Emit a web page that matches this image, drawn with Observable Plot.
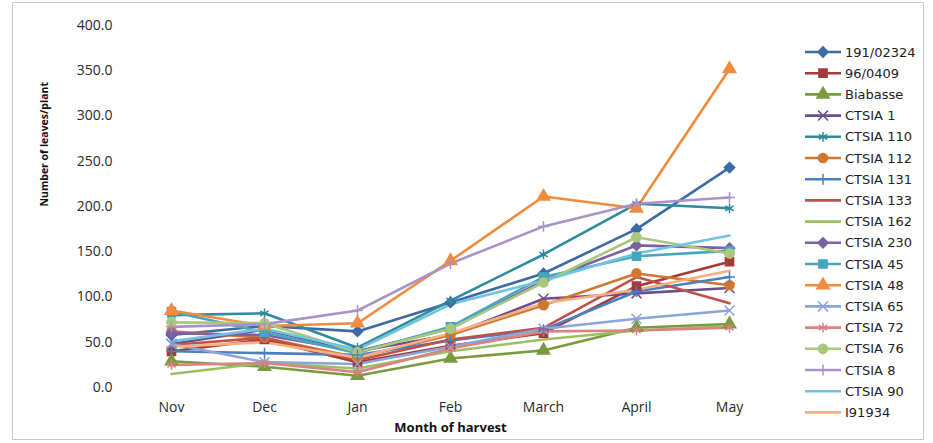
<!DOCTYPE html>
<html>
<head>
<meta charset="utf-8">
<script src="https://cdn.jsdelivr.net/npm/d3@7"></script>
<script src="https://cdn.jsdelivr.net/npm/@observablehq/plot@0.6"></script>
<style>
  body { margin: 0; background: #fff; }
  #wrap { position: relative; width: 933px; height: 443px; overflow: hidden; }
  #frame { position: absolute; left: 12px; top: 2px; width: 912px; height: 438px; border: 1px solid #c8c8c8; box-sizing: border-box; pointer-events: none; }
  #legend { position: absolute; left: 0; top: 0; }
</style>
</head>
<body>
<div id="wrap"><div id="frame"></div></div>
<script>
// ---- data ----
const months = ["Nov", "Dec", "Jan", "Feb", "March", "April", "May"];
const seriesNames = ["191/02324", "96/0409", "Biabasse", "CTSIA 1", "CTSIA 110", "CTSIA 112", "CTSIA 131", "CTSIA 133", "CTSIA 162", "CTSIA 230", "CTSIA 45", "CTSIA 48", "CTSIA 65", "CTSIA 72", "CTSIA 76", "CTSIA 8", "CTSIA 90", "I91934"];
const yTicks = [0, 50, 100, 150, 200, 250, 300, 350, 400];

const v191_02324 = [58, 68, 62, 94, 126, 175, 243];
const v96_0409   = [40, 53, 28, 46, 60, 112, 139];
const vBiabasse  = [29, 23, 13, 32, 41, 66, 70];
const vCTSIA1    = [48, 64, 40, 58, 98, 104, 110];
const vCTSIA110  = [80, 82, 44, 96, 147, 203, 198];
const vCTSIA112  = [62, 55, 33, 58, 91, 126, 113];
const vCTSIA131  = [40, 38, 36, 52, 64, 106, 122];
const vCTSIA133  = [47, 55, 30, 53, 66, 122, 93];
const vCTSIA162  = [15, 27, 21, 40, 53, 63, 68];
const vCTSIA230  = [60, 58, 40, 65, 118, 157, 154];
const vCTSIA45   = [84, 61, 38, 67, 122, 145, 151];
const vCTSIA48   = [85, 68, 71, 140, 211, 198, 352];
const vCTSIA65   = [48, 28, 26, 45, 65, 76, 85];
const vCTSIA72   = [25, 27, 17, 43, 62, 63, 66];
const vCTSIA76   = [72, 71, 39, 65, 116, 166, 148];
const vCTSIA8    = [67, 70, 85, 137, 178, 203, 210];
const vCTSIA90   = [51, 65, 42, 92, 118, 148, 168];
const vI91934    = [45, 50, 33, 60, 93, 108, 129];

const seriesValues = [v191_02324, v96_0409, vBiabasse, vCTSIA1, vCTSIA110, vCTSIA112, vCTSIA131, vCTSIA133, vCTSIA162, vCTSIA230, vCTSIA45, vCTSIA48, vCTSIA65, vCTSIA72, vCTSIA76, vCTSIA8, vCTSIA90, vI91934];

// ---- styles ----
const colors = ["#3d69a4", "#a23c3a", "#7a9a3e", "#6a4f8e", "#2f8b9f", "#d0782f", "#4a7fc0", "#c0504d", "#9bc062", "#7d5fa3", "#45a6c2", "#f08c3c", "#8aa6d8", "#d98385", "#a9c87e", "#a893c6", "#72c3dc", "#f7b080"];
const markers = ["diamond2", "square", "triangle", "times", "asterisk", "circle", "plus", null, null, "diamond2", "square", "triangle", "times", "asterisk", "circle", "plus", null, null];

const data = [];
seriesNames.forEach((s, i) => {
  seriesValues[i].forEach((v, j) => data.push({series: s, month: months[j], value: v, marker: markers[i]}));
});
const dotData = data.filter(d => d.marker && d.marker !== "plus");
const plusData = data.filter(d => d.marker === "plus");

const fontFam = "'Open Sans', 'DejaVu Sans', sans-serif";

const chart = Plot.plot({
  width: 933,
  height: 443,
  marginLeft: 124,
  marginRight: 157,
  marginTop: 25,
  marginBottom: 56,
  style: {fontFamily: fontFam, background: "transparent", color: "#222"},
  x: {type: "point", domain: months, padding: 0.5, label: null},
  y: {domain: [0, 400], label: null},
  color: {domain: seriesNames, range: colors},
  symbol: {domain: seriesNames, range: markers.map(m => m || "circle")},
  marks: [
    Plot.axisY({ticks: yTicks, tickFormat: d => d.toFixed(1), tickSize: 0, tickPadding: 12, fontSize: 14, label: null, line: true, stroke: "#b5b5b5", fill: "#2a2a2a"}),
    Plot.axisX({tickSize: 0, tickPadding: 15, fontSize: 14, label: null, line: true, stroke: "#b5b5b5", fill: "#2a2a2a"}),
    Plot.line(data, {x: "month", y: "value", z: "series", stroke: "series", strokeWidth: 2.6, strokeLinejoin: "round"}),
    Plot.dot(dotData, {x: "month", y: "value", symbol: "series", fill: "series", stroke: "series", strokeWidth: 1.5, r: 4.6}),
    Plot.dot(plusData, {x: "month", y: "value", symbol: "series", stroke: "series", strokeWidth: 1.5, r: 3.6}),
    Plot.text(["Month of harvest"], {frameAnchor: "bottom", dy: 44, fontSize: 13, fontWeight: "bold", fill: "#111"}),
    Plot.text(["Number of leaves/plant"], {frameAnchor: "left", dx: -80, rotate: -90, fontSize: 10.5, fontWeight: "bold", fill: "#111"})
  ]
});
document.getElementById("wrap").appendChild(chart);

// ---- legend ----
const symMap = {diamond2: d3.symbolDiamond2, square: d3.symbolSquare, triangle: d3.symbolTriangle, times: d3.symbolTimes, asterisk: d3.symbolAsterisk, circle: d3.symbolCircle, plus: d3.symbolPlus};
const lg = d3.select("#wrap").append("svg").attr("id", "legend").attr("width", 933).attr("height", 443);
seriesNames.forEach((s, i) => {
  const y = 52 + i * 21.2;
  const g = lg.append("g").attr("transform", `translate(0,${y})`);
  g.append("line").attr("x1", 805).attr("x2", 841).attr("y1", 0).attr("y2", 0).attr("stroke", colors[i]).attr("stroke-width", 2.6);
  if (markers[i]) {
    const r = markers[i] === "plus" ? 3.6 : 4.6;
    g.append("path").attr("transform", "translate(823,0)")
      .attr("d", d3.symbol(symMap[markers[i]], Math.PI * r * r)())
      .attr("fill", markers[i] === "plus" ? "none" : colors[i]).attr("stroke", colors[i]).attr("stroke-width", 1.5);
  }
  g.append("text").attr("x", 845).attr("y", 0).attr("dy", "0.35em").attr("font-size", 13).attr("font-family", "'DejaVu Sans', sans-serif").attr("fill", "#222").text(s);
});
</script>
</body>
</html>
